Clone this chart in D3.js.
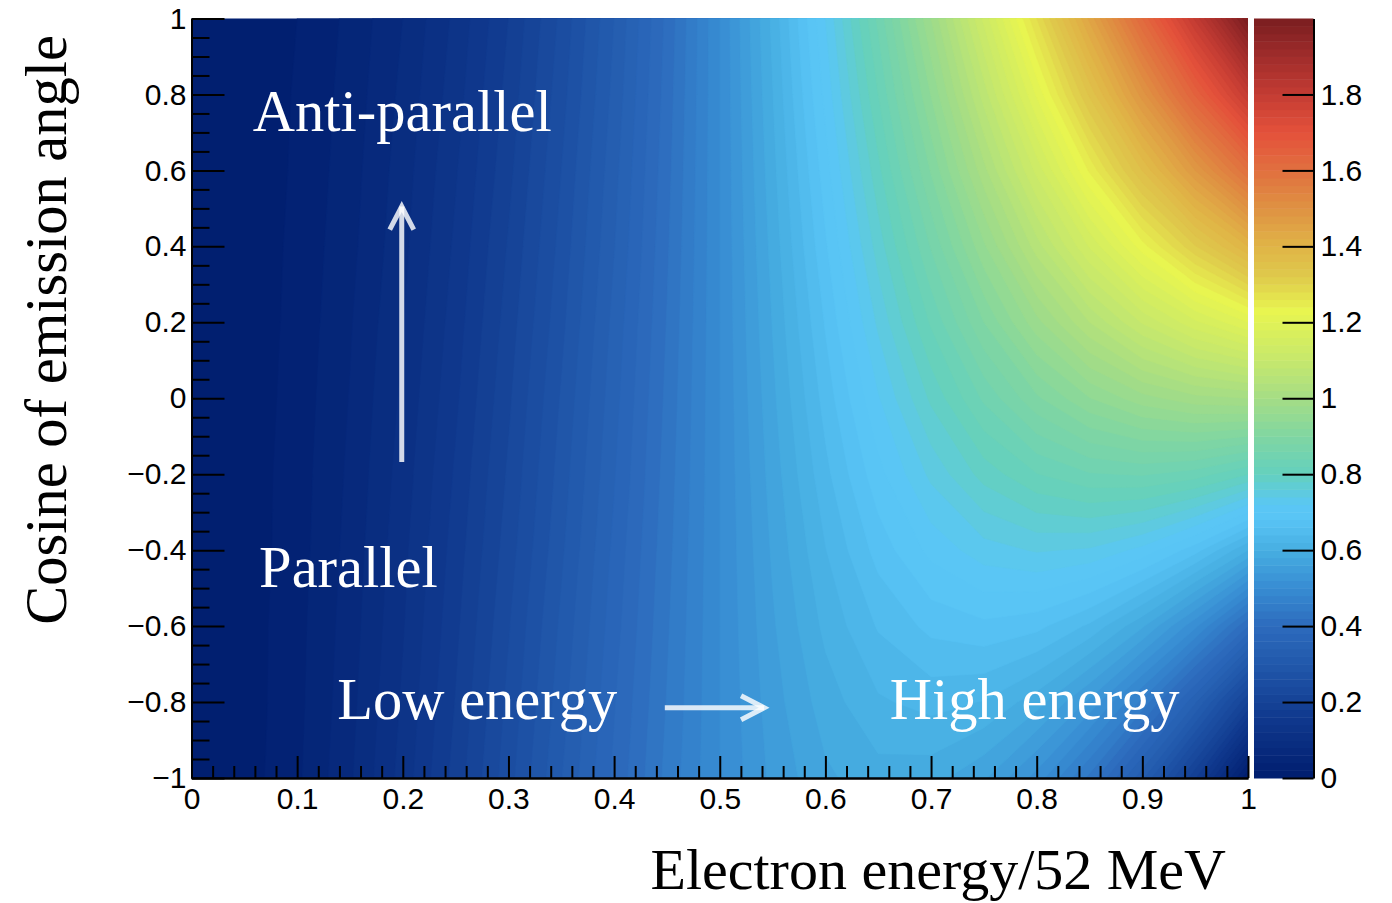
<!DOCTYPE html>
<html>
<head>
<meta charset="utf-8">
<script src="https://cdn.jsdelivr.net/npm/d3@7"></script>
<style>
  html, body { margin: 0; background: #fff; }
  svg { display: block; }
</style>
</head>
<body>
<svg id="chart" width="1392" height="903"></svg>
<script>
// Michel decay spectrum: rate vs. reduced electron energy and emission-angle cosine

// grid nodes along the electron energy axis (E / 52 MeV)
const energyNodes = [0, 0.05, 0.10, 0.15, 0.20, 0.25, 0.30, 0.35, 0.40, 0.45, 0.50,
                     0.55, 0.60, 0.65, 0.70, 0.75, 0.80, 0.85, 0.90, 0.95, 1.00];
// grid nodes along the cosine axis
const cosineNodes = [-1, -0.8, -0.6, -0.4, -0.2, 0, 0.2, 0.4, 0.6, 0.8, 1];

// rate at each node, one row per cosine (bottom row first), one column per energy
const density = [
  [0, 0.010, 0.036, 0.077, 0.128, 0.188, 0.252, 0.319, 0.384, 0.446, 0.500, 0.545, 0.576, 0.592, 0.588, 0.563, 0.512, 0.434, 0.324, 0.181, 0.000],
  [0, 0.009, 0.034, 0.073, 0.123, 0.181, 0.245, 0.311, 0.378, 0.441, 0.500, 0.551, 0.590, 0.617, 0.627, 0.619, 0.589, 0.535, 0.454, 0.343, 0.200],
  [0, 0.009, 0.033, 0.070, 0.118, 0.175, 0.238, 0.304, 0.371, 0.437, 0.500, 0.557, 0.605, 0.642, 0.666, 0.675, 0.666, 0.636, 0.583, 0.505, 0.400],
  [0, 0.008, 0.031, 0.067, 0.114, 0.169, 0.230, 0.296, 0.365, 0.433, 0.500, 0.563, 0.619, 0.668, 0.706, 0.731, 0.742, 0.737, 0.713, 0.668, 0.600],
  [0, 0.008, 0.030, 0.064, 0.109, 0.163, 0.223, 0.289, 0.358, 0.429, 0.500, 0.569, 0.634, 0.693, 0.745, 0.788, 0.819, 0.838, 0.842, 0.830, 0.800],
  [0, 0.007, 0.028, 0.061, 0.104, 0.156, 0.216, 0.282, 0.352, 0.425, 0.500, 0.575, 0.648, 0.718, 0.784, 0.844, 0.896, 0.939, 0.972, 0.993, 1.000],
  [0, 0.007, 0.026, 0.058, 0.099, 0.150, 0.209, 0.274, 0.346, 0.421, 0.500, 0.581, 0.662, 0.744, 0.823, 0.900, 0.973, 1.040, 1.102, 1.155, 1.200],
  [0, 0.006, 0.025, 0.054, 0.094, 0.144, 0.202, 0.267, 0.339, 0.417, 0.500, 0.587, 0.677, 0.769, 0.862, 0.956, 1.050, 1.142, 1.231, 1.318, 1.400],
  [0, 0.006, 0.023, 0.051, 0.090, 0.138, 0.194, 0.260, 0.333, 0.413, 0.500, 0.593, 0.691, 0.794, 0.902, 1.013, 1.126, 1.243, 1.361, 1.480, 1.600],
  [0, 0.005, 0.022, 0.048, 0.085, 0.131, 0.187, 0.252, 0.326, 0.409, 0.500, 0.599, 0.706, 0.820, 0.941, 1.069, 1.203, 1.344, 1.490, 1.643, 1.800],
  [0, 0.005, 0.020, 0.045, 0.080, 0.125, 0.180, 0.245, 0.320, 0.405, 0.500, 0.605, 0.720, 0.845, 0.980, 1.125, 1.280, 1.445, 1.620, 1.805, 2.000]
];

// axis ticks and labels
const xTickValues = [0, 0.1, 0.2, 0.3, 0.4, 0.5, 0.6, 0.7, 0.8, 0.9, 1];
const xTickLabels = ["0", "0.1", "0.2", "0.3", "0.4", "0.5", "0.6", "0.7", "0.8", "0.9", "1"];
const yTickValues = [-1, -0.8, -0.6, -0.4, -0.2, 0, 0.2, 0.4, 0.6, 0.8, 1];
const yTickLabels = ["\u22121", "\u22120.8", "\u22120.6", "\u22120.4", "\u22120.2", "0", "0.2", "0.4", "0.6", "0.8", "1"];
const zTickValues = [0, 0.2, 0.4, 0.6, 0.8, 1, 1.2, 1.4, 1.6, 1.8];
const zTickLabels = ["0", "0.2", "0.4", "0.6", "0.8", "1", "1.2", "1.4", "1.6", "1.8"];

// colour palette
const paletteStops  = [0.00, 0.15, 0.30, 0.40, 0.50, 0.60, 0.68, 0.72, 0.80, 0.90, 1.00, 1.10, 1.23, 1.32, 1.40, 1.50, 1.60, 1.70, 1.80, 1.90, 2.00];
const paletteColors = ["#001d6e", "#0f378c", "#2158ab", "#2d6bbd", "#378cd2", "#47aee2", "#58c4f5", "#5ac7f5", "#64d0be", "#80d6a2",
                       "#a5dd85", "#c6e86c", "#e8f550", "#dfca4b", "#e0b447", "#df9242", "#e1703f", "#e4513b", "#c43c33", "#a02c2b", "#7a1e20"];

// text
const xTitle = "Electron energy/52 MeV";
const yTitle = "Cosine of emission angle";
const annotations = [
  { text: "Anti-parallel", x: 0.058, y: 0.705 },
  { text: "Parallel",      x: 0.064, y: -0.497 },
  { text: "Low energy",    x: 0.138, y: -0.845 },
  { text: "High energy",   x: 0.661, y: -0.845 }
];
const arrows = [
  { x1: 0.199, y1: -0.168, x2: 0.199, y2: 0.505 },
  { x1: 0.448, y1: -0.815, x2: 0.542, y2: -0.815 }
];

const bandStep = 0.02;

const svg = d3.select("#chart");
const plot = { left: 191.5, right: 1248, top: 18.5, bottom: 778 };
const bar  = { left: 1254, right: 1313.5 };

const x = d3.scaleLinear().domain([0, 1]).range([plot.left, plot.right]);
const y = d3.scaleLinear().domain([-1, 1]).range([plot.bottom, plot.top]);
const z = d3.scaleLinear().domain([0, 2]).range([plot.bottom, plot.top]);
const color = d3.scaleLinear().domain(paletteStops).range(paletteColors).interpolate(d3.interpolateRgb).clamp(true);

// grid index space -> data space (d3.contours puts sample i at i + 0.5)
const gx = d3.scaleLinear().domain([0.5, energyNodes.length - 0.5]).range([x(energyNodes[0]), x(energyNodes[energyNodes.length - 1])]);
const gy = d3.scaleLinear().domain([0.5, cosineNodes.length - 0.5]).range([y(cosineNodes[0]), y(cosineNodes[cosineNodes.length - 1])]);

const flat = density.flat();
const thresholds = d3.range(0, 2, bandStep);
const contours = d3.contours().size([energyNodes.length, cosineNodes.length]).thresholds(thresholds)(flat);

const projection = d3.geoTransform({
  point(px, py) { this.stream.point(gx(px), gy(py)); }
});
const path = d3.geoPath(projection);

svg.append("defs").append("clipPath").attr("id", "plot-clip")
  .append("rect")
  .attr("x", plot.left).attr("y", plot.top)
  .attr("width", plot.right - plot.left).attr("height", plot.bottom - plot.top);

svg.append("g").attr("clip-path", "url(#plot-clip)")
  .selectAll("path").data(contours).join("path")
  .attr("d", path)
  .attr("fill", d => color(d.value + bandStep / 2))
  .attr("stroke", d => color(d.value + bandStep / 2))
  .attr("stroke-width", 0.6);

// colour bar
svg.append("g").selectAll("rect").data(thresholds).join("rect")
  .attr("x", bar.left)
  .attr("width", bar.right - bar.left)
  .attr("y", d => z(d + bandStep))
  .attr("height", d => z(d) - z(d + bandStep) + 0.5)
  .attr("fill", d => color(d + bandStep / 2));

const tickFont = "'Liberation Sans', Arial, Helvetica, sans-serif";
const serif = "'Liberation Serif', 'Times New Roman', Times, serif";

function styleAxis(g) {
  g.attr("font-family", tickFont).attr("font-size", 30);
  g.selectAll("line, path").attr("stroke", "#000").attr("stroke-width", 2);
  g.selectAll("text").attr("fill", "#000");
}

const xMinor = d3.range(0, 1.0001, 0.02).filter(v => Math.abs(v * 10 - Math.round(v * 10)) > 1e-6);
const yMinor = d3.range(-1, 1.0001, 0.05).filter(v => Math.abs(v * 5 - Math.round(v * 5)) > 1e-6);

// x axis
svg.append("g").attr("transform", `translate(0,${plot.bottom})`)
  .call(d3.axisBottom(x).tickValues(xMinor).tickSize(-12).tickSizeOuter(0).tickFormat(""))
  .call(styleAxis);
svg.append("g").attr("transform", `translate(0,${plot.bottom})`)
  .call(d3.axisBottom(x).tickValues(xTickValues).tickSize(-22).tickSizeOuter(0).tickPadding(10)
        .tickFormat((d, i) => xTickLabels[i]))
  .call(styleAxis);

// y axis
svg.append("g").attr("transform", `translate(${plot.left},0)`)
  .call(d3.axisLeft(y).tickValues(yMinor).tickSize(-18).tickSizeOuter(0).tickFormat(""))
  .call(styleAxis);
svg.append("g").attr("transform", `translate(${plot.left},0)`)
  .call(d3.axisLeft(y).tickValues(yTickValues).tickSize(-33).tickSizeOuter(0).tickPadding(5)
        .tickFormat((d, i) => yTickLabels[i]))
  .call(styleAxis);

// colour bar axis
svg.append("g").attr("transform", `translate(${bar.right},0)`)
  .call(d3.axisRight(z).tickValues(zTickValues).tickSize(-31).tickSizeOuter(0).tickPadding(7)
        .tickFormat((d, i) => zTickLabels[i]))
  .call(styleAxis);

// axis titles
svg.append("text")
  .attr("x", 1226).attr("y", 889)
  .attr("text-anchor", "end")
  .attr("font-family", serif).attr("font-size", 58).attr("fill", "#000")
  .text(xTitle);

svg.append("text")
  .attr("transform", "translate(66,35) rotate(-90)")
  .attr("text-anchor", "end")
  .attr("font-family", serif).attr("font-size", 58.5).attr("fill", "#000")
  .text(yTitle);

// annotations
svg.append("g").selectAll("text").data(annotations).join("text")
  .attr("x", d => x(d.x)).attr("y", d => y(d.y))
  .attr("font-family", serif).attr("font-size", 58.5).attr("fill", "#fff")
  .text(d => d.text);

const arrowG = svg.append("g")
  .attr("stroke", "#fff").attr("stroke-opacity", 0.82)
  .attr("stroke-width", 5).attr("fill", "none");

arrows.forEach(a => {
  const x1 = x(a.x1), y1 = y(a.y1), x2 = x(a.x2), y2 = y(a.y2);
  const ang = Math.atan2(y2 - y1, x2 - x1);
  const len = 26, spread = 0.48;
  const p1 = [x2 - len * Math.cos(ang - spread), y2 - len * Math.sin(ang - spread)];
  const p2 = [x2 - len * Math.cos(ang + spread), y2 - len * Math.sin(ang + spread)];
  arrowG.append("path")
    .attr("d", `M${x1},${y1}L${x2},${y2}`);
  arrowG.append("path")
    .attr("stroke-linejoin", "miter").attr("stroke-linecap", "butt")
    .attr("d", `M${p1[0]},${p1[1]}L${x2},${y2}L${p2[0]},${p2[1]}`);
});
</script>
</body>
</html>
